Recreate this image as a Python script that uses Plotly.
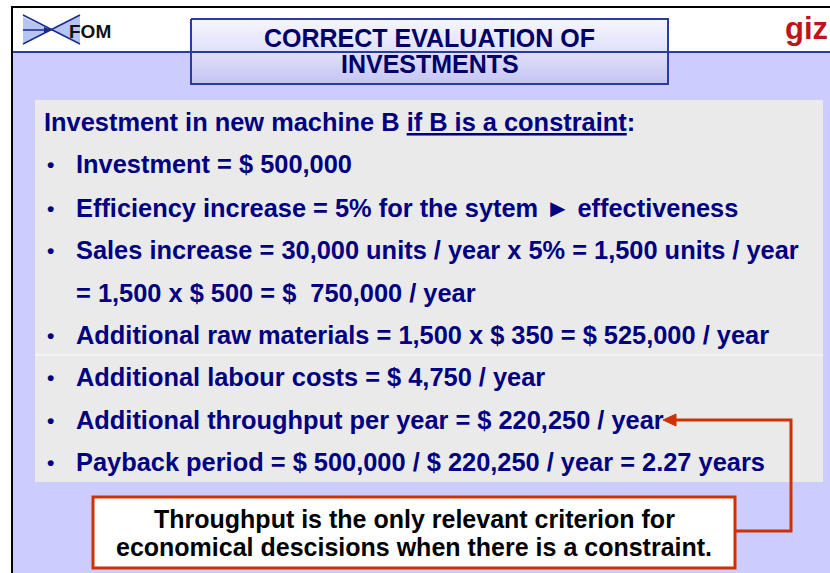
import plotly.graph_objects as go

# ---- content ----
title_lines = ["CORRECT EVALUATION OF", "INVESTMENTS"]
heading = "Investment in new machine B <u>if B is a constraint</u>:"
bullet_lines = [
    ("•", "Investment = $ 500,000"),
    ("•", "Efficiency increase = 5% for the sytem ► effectiveness"),
    ("•", "Sales increase = 30,000 units / year x 5% = 1,500 units / year"),
    ("", "= 1,500 x $ 500 = $  750,000 / year"),
    ("•", "Additional raw materials = 1,500 x $ 350 = $ 525,000 / year"),
    ("•", "Additional labour costs = $ 4,750 / year"),
    ("•", "Additional throughput per year = $ 220,250 / year"),
    ("•", "Payback period = $ 500,000 / $ 220,250 / year = 2.27 years"),
]
callout_lines = ["Throughput is the only relevant criterion for",
                 "economical descisions when there is a constraint."]
logo_text = "FOM"
brand_text = "giz"

W, H = 830, 573
NAVY = "#000080"
LAV = "#CCCCFF"
RED = "#CC3300"
FONT = "Liberation Sans, Arial, sans-serif"
FS = 25.4

fig = go.Figure()
shapes = []
ann = []

# page background & frame
shapes.append(dict(type="rect", x0=12, y0=7, x1=W + 5, y1=H + 5, fillcolor=LAV,
                   line=dict(color="black", width=2), layer="below"))
# white header band
shapes.append(dict(type="rect", x0=13, y0=8, x1=W + 5, y1=52, fillcolor="white",
                   line=dict(width=0), layer="below"))
shapes.append(dict(type="line", x0=13, y0=52, x1=W, y1=52,
                   line=dict(color="#2a3c9c", width=2)))

# title box with vertical gradient
tx0, tx1, ty0, ty1 = 191, 668, 19, 84
fig.add_trace(go.Scatter(
    x=[tx0, tx1, tx1, tx0, tx0], y=[ty0, ty0, ty1, ty1, ty0],
    mode="lines", fill="toself", line=dict(color="#2a3c9c", width=2),
    fillgradient=dict(type="vertical",
                      colorscale=[[0, "#C4C4F4"], [0.5, "#E0E0FA"], [1, "#F6F6FF"]]),
    hoverinfo="skip", showlegend=False))
for line, yy in zip(title_lines, [38, 64]):
    ann.append(dict(x=(tx0 + tx1) / 2, y=yy, text="<b>" + line + "</b>",
                    showarrow=False, xanchor="center", yanchor="middle",
                    font=dict(family=FONT, size=25, color="#000066")))

# gray content panel
shapes.append(dict(type="rect", x0=35, y0=100, x1=823, y1=482, fillcolor="#EAEAEA",
                   line=dict(width=0), layer="below"))
shapes.append(dict(type="line", x0=35, y0=355, x1=823, y1=355,
                   line=dict(color="#F6F6F6", width=1.5)))

# heading
ann.append(dict(x=42, y=122, text="<b>" + heading + "</b>", showarrow=False,
                xanchor="left", yanchor="middle",
                font=dict(family=FONT, size=FS, color=NAVY)))
row_y = [164, 208, 250, 293, 335, 377, 420, 462]
for (b, t), yy in zip(bullet_lines, row_y):
    if b:
        ann.append(dict(x=50, y=yy, text="<b>" + b + "</b>", showarrow=False,
                        xanchor="center", yanchor="middle",
                        font=dict(family=FONT, size=21, color=NAVY)))
    ann.append(dict(x=74, y=yy, text="<b>" + t + "</b>", showarrow=False,
                    xanchor="left", yanchor="middle",
                    font=dict(family=FONT, size=FS, color=NAVY)))

# callout box
bx0, bx1, by0, by1 = 93, 735, 497, 568
shapes.append(dict(type="rect", x0=bx0, y0=by0, x1=bx1, y1=by1, fillcolor="white",
                   line=dict(color=RED, width=3)))
for line, yy in zip(callout_lines, [519, 547]):
    ann.append(dict(x=(bx0 + bx1) / 2, y=yy, text="<b>" + line + "</b>",
                    showarrow=False, xanchor="center", yanchor="middle",
                    font=dict(family=FONT, size=25, color="black")))

# connector arrow
shapes.append(dict(type="path", path="M 736 531 L 791 531 L 791 420 L 672 420",
                   line=dict(color=RED, width=3)))
shapes.append(dict(type="path", path="M 663 420 L 676 414 L 676 426 Z",
                   fillcolor=RED, line=dict(color=RED, width=1)))

# FOM logo
shapes.append(dict(type="path", path="M 23 17 L 51 30 L 23 43 Z",
                   fillcolor="#B8C4F0", line=dict(width=0)))
shapes.append(dict(type="path", path="M 80 15 L 51 30 L 80 44 Z",
                   fillcolor="#B8C4F0", line=dict(width=0)))
shapes.append(dict(type="line", x0=23, y0=15, x1=80, y1=44,
                   line=dict(color="#1a2a8c", width=1.5)))
shapes.append(dict(type="line", x0=23, y0=44, x1=80, y1=15,
                   line=dict(color="#1a2a8c", width=1.5)))
shapes.append(dict(type="line", x0=23, y0=30, x1=46, y1=30,
                   line=dict(color="#1a2a8c", width=1.5)))
shapes.append(dict(type="path", path="M 52 30 L 44 27 L 44 33 Z",
                   fillcolor="#1a2a8c", line=dict(width=0)))
ann.append(dict(x=67, y=31, text="<b>" + logo_text + "</b>", showarrow=False,
                xanchor="left", yanchor="middle",
                font=dict(family=FONT, size=19, color="#111111")))

# giz brand
ann.append(dict(x=830, y=28, text="<b>" + brand_text + "</b>", showarrow=False,
                xanchor="right", yanchor="middle",
                font=dict(family=FONT, size=31, color="#C0141C")))

fig.update_layout(
    width=W, height=H, margin=dict(l=0, r=0, t=0, b=0),
    paper_bgcolor="white", plot_bgcolor="white",
    xaxis=dict(range=[0, W], visible=False, fixedrange=True),
    yaxis=dict(range=[H, 0], visible=False, fixedrange=True),
    shapes=shapes, annotations=ann, showlegend=False,
)
fig.write_html("out.html", config={"displayModeBar": False},
               post_script="document.body.style.margin='0';"
                           "document.body.style.overflow='hidden';")
